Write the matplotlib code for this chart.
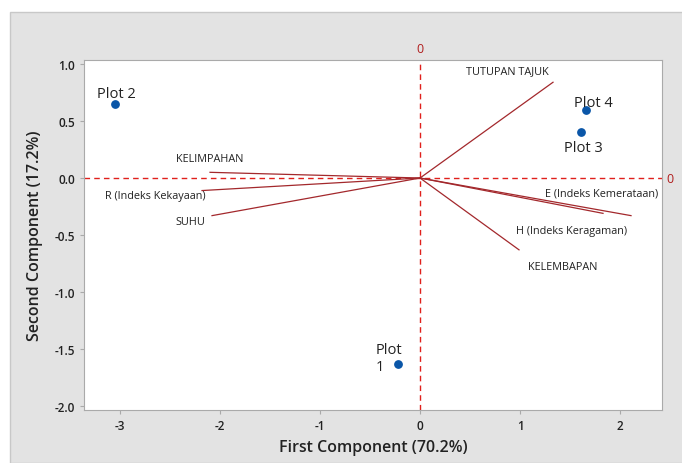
import matplotlib.pyplot as plt
from matplotlib.patches import Rectangle

plt.rcParams['font.family'] = ['Open Sans', 'DejaVu Sans']
plt.rcParams['axes.unicode_minus'] = False

# scores of the four plots
plot_names = ['Plot 1', 'Plot 2', 'Plot 3', 'Plot 4']
score_x = [-0.22, -3.05, 1.61, 1.66]
score_y = [-1.63, 0.65, 0.40, 0.60]

# loadings (scaled) of the variables
var_names = ['TUTUPAN TAJUK', 'E (Indeks Kemerataan)', 'H (Indeks Keragaman)',
             'KELEMBAPAN', 'KELIMPAHAN', 'R (Indeks Kekayaan)', 'SUHU']
load_x = [1.33, 2.11, 1.83, 0.99, -2.10, -2.18, -2.08]
load_y = [0.84, -0.33, -0.31, -0.63, 0.05, -0.11, -0.33]

fig = plt.figure(figsize=(6.82, 4.64), dpi=100)
fig.patches.append(Rectangle((10 / 682, 0), 1, 1 - 13 / 464, transform=fig.transFigure,
                             facecolor='#e3e3e3', edgecolor='#c8c8c8', lw=1,
                             zorder=-10))
ax = fig.add_axes([0.1232, 0.1142, 0.8475, 0.7543])
ax.set_xlim(-3.36, 2.42)
ax.set_ylim(-2.035, 1.035)

# reference lines through the origin
ax.axhline(0, color='#e0201c', ls=(0, (4, 3)), lw=1)
ax.axvline(0, color='#e0201c', ls=(0, (4, 3)), lw=1)
ax.text(0, 1.032, '0', color='#b01c1c', ha='center', va='center', fontsize=9,
        transform=ax.get_xaxis_transform())
ax.text(1.007, 0, '0', color='#b01c1c', ha='left', va='center', fontsize=9,
        transform=ax.get_yaxis_transform())

# variable vectors
for lx, ly in zip(load_x, load_y):
    ax.plot([0, lx], [0, ly], color='#a3282c', lw=0.9)

lab_pos = [(0.87, 0.94), (1.82, -0.13), (1.52, -0.46), (1.43, -0.78),
           (-2.10, 0.17), (-2.65, -0.155), (-2.30, -0.38)]
for name, (tx, ty) in zip(var_names, lab_pos):
    ax.text(tx, ty, name, fontsize=7.8, ha='center', va='center', color='#222222')

# plot scores
ax.scatter(score_x, score_y, s=28, color='#0a56a8', zorder=3)
name_pos = [(-0.44, -1.58, 'left'), (-3.04, 0.74, 'center'),
            (1.63, 0.27, 'center'), (1.73, 0.66, 'center')]
for name, (tx, ty, ha) in zip(plot_names, name_pos):
    if name == 'Plot 1':
        name = 'Plot\n1'
    ax.text(tx, ty, name, fontsize=10.5, ha=ha, va='center', color='#222222',
            linespacing=1.2)

ax.set_xticks([-3, -2, -1, 0, 1, 2])
ax.set_yticks([-2.0, -1.5, -1.0, -0.5, 0.0, 0.5, 1.0])
ax.set_yticklabels(['-2.0', '-1.5', '-1.0', '-0.5', '0.0', '0.5', '1.0'])
ax.tick_params(labelsize=8.5, colors='#aaaaaa', labelcolor='#222222',
               length=3, width=0.8)
for t in ax.get_xticklabels() + ax.get_yticklabels():
    t.set_fontweight('semibold')
for sp in ax.spines.values():
    sp.set_color('#aaaaaa')

ax.set_xlabel('First Component (70.2%)', fontsize=11.5, fontweight='semibold',
              color='#222222', labelpad=5)
ax.set_ylabel('Second Component (17.2%)', fontsize=11.5, fontweight='semibold',
              color='#222222', labelpad=8)

fig.savefig('out.png', dpi=100)
